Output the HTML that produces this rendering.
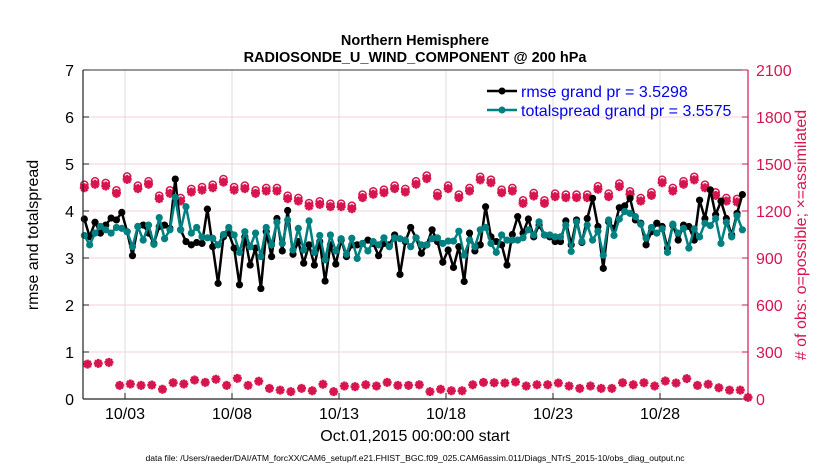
<!DOCTYPE html>
<html><head><meta charset="utf-8">
<style>
body{margin:0;background:#fff;}
svg{display:block;font-family:"Liberation Sans",Arial,sans-serif;}
</style></head>
<body>
<svg id="chart" width="830" height="470" viewBox="0 0 830 470" xmlns="http://www.w3.org/2000/svg">
<rect width="830" height="470" fill="#fff"/>
<text x="415" y="45" text-anchor="middle" font-size="14.5" font-weight="bold">Northern Hemisphere</text>
<text x="415" y="62" text-anchor="middle" font-size="14.5" font-weight="bold">RADIOSONDE_U_WIND_COMPONENT @ 200 hPa</text>
<g id="grid"></g>
<g id="marks"></g>
<g id="axes"></g>
<text transform="translate(38,235) rotate(-90)" text-anchor="middle" font-size="16">rmse and totalspread</text>
<text transform="translate(806,235) rotate(-90)" text-anchor="middle" font-size="16" fill="#d6154f">#&#160;of obs: o=possible; ×=assimilated</text>
<text x="415" y="441" text-anchor="middle" font-size="16">Oct.01,2015 00:00:00 start</text>
<text x="415" y="461" text-anchor="middle" font-size="8.6">data file: /Users/raeder/DAI/ATM_forcXX/CAM6_setup/f.e21.FHIST_BGC.f09_025.CAM6assim.011/Diags_NTrS_2015-10/obs_diag_output.nc</text>
<g>
  <line x1="487" y1="91" x2="517" y2="91" stroke="#000" stroke-width="2.5"/>
  <circle cx="502" cy="91" r="3.5" fill="#000"/>
  <text x="521" y="97" font-size="16" fill="#0000ee">rmse grand pr = 3.5298</text>
  <line x1="487" y1="110" x2="517" y2="110" stroke="#008080" stroke-width="2.5"/>
  <circle cx="502" cy="110" r="3.5" fill="#008080"/>
  <text x="521" y="116" font-size="16" fill="#0000ee">totalspread grand pr = 3.5575</text>
</g>
</svg>
<script>
const rmse = [3.83,3.45,3.76,3.53,3.70,3.85,3.81,3.97,3.56,3.05,3.67,3.70,3.53,3.31,3.67,3.70,3.63,4.68,3.60,3.35,3.28,3.33,3.31,4.04,3.24,2.46,3.45,3.53,3.21,2.43,3.45,2.85,
3.21,2.35,3.56,3.03,3.84,3.15,4.01,3.08,3.35,2.89,3.28,2.85,3.35,2.51,3.28,2.87,3.38,3.03,3.28,3.28,3.31,3.38,3.31,3.05,3.31,3.28,3.49,2.65,3.35,3.65,3.43,
3.10,3.28,3.60,3.35,2.91,3.17,2.80,3.24,2.50,3.53,3.15,3.28,4.09,3.45,3.35,3.28,2.85,3.50,3.88,3.53,3.83,3.45,3.70,3.49,3.45,3.35,3.35,3.79,3.28,3.81,3.33,3.84,
4.27,3.67,2.78,3.77,3.63,4.07,4.11,4.27,3.81,3.74,3.28,3.56,3.74,3.67,3.21,3.70,3.38,3.70,3.67,3.38,4.23,3.84,4.45,3.92,4.21,3.84,3.49,3.95,4.35];
const spread = [3.48,3.28,3.53,3.67,3.60,3.53,3.65,3.63,3.56,3.24,3.67,3.38,3.70,3.29,3.86,3.41,3.60,4.29,3.60,4.09,3.53,3.65,3.45,3.43,3.42,3.28,3.50,3.65,3.49,3.12,3.56,3.24,
3.53,3.03,3.65,3.28,3.76,3.31,3.81,3.17,3.63,3.17,3.79,3.12,3.48,2.96,3.49,3.15,3.41,3.08,3.42,2.99,3.31,3.15,3.35,3.28,3.43,3.24,3.43,3.41,3.38,3.24,3.43,
3.28,3.28,3.41,3.43,3.31,3.36,3.36,3.57,3.06,3.38,3.24,3.60,3.65,3.31,3.12,3.49,3.38,3.38,3.38,3.43,3.60,3.49,3.77,3.49,3.49,3.45,3.45,3.70,3.14,3.77,3.35,3.70,
3.38,3.57,3.06,3.81,3.48,3.83,3.99,3.95,3.88,3.72,3.42,3.65,3.53,3.62,3.12,3.72,3.53,3.63,3.21,3.62,3.45,3.74,3.69,3.84,3.31,3.76,3.45,3.90,3.60];
const nPossible = [1355,1377,1366,1319,1408,1349,1377,1285,1319,1270,1328,1340,1355,1391,1340,1349,
1319,1334,1334,1285,1270,1238,1249,1234,1234,1221,1292,1313,1323,1349,1328,1377,
1413,1302,1349,1292,1334,1405,1387,1323,1334,1255,1302,1255,1298,1292,1292,1292,
1345,1298,1362,1313,1270,1306,1387,1334,1377,1405,1355,1306,1270,1264];
const nAssim = [223,227,234,87,96,87,89,62,104,96,121,106,126,87,132,87,113,68,57,47,68,53,94,47,83,79,91,83,106,87,87,91,
47,62,53,53,91,106,104,102,109,83,91,91,102,83,68,83,68,68,104,91,104,83,115,102,130,87,94,72,57,57,10];
const xTickDays = [2,7,12,17,22,27];
const xTickLabels = ["10/03","10/08","10/13","10/18","10/23","10/28"];
const leftTicks = [0,1,2,3,4,5,6,7];
const rightTicks = [0,300,600,900,1200,1500,1800,2100];

const L=83, R=748, T=70, B=399;
const xScale = d => 82.2 + 21.4*d;
const yL = v => B - (v/7)*(B-T);
const yR = v => B - (v/2100)*(B-T);
const NS="http://www.w3.org/2000/svg";
function mk(parent, tag, attrs){const e=document.createElementNS(NS,tag);for(const k in attrs)e.setAttribute(k,attrs[k]);parent.appendChild(e);return e;}
const grid=document.getElementById('grid'), marks=document.getElementById('marks'), axes=document.getElementById('axes');

leftTicks.forEach((v,i)=>{ if(v>0&&v<7){const g=mk(grid,'line',{x1:L,x2:R,y1:yL(v),y2:yL(v),stroke:'#f6cfdc','stroke-width':1});

}});
xTickDays.forEach((d,i)=>{const g=mk(grid,'line',{x1:xScale(d),x2:xScale(d),y1:T,y2:B,stroke:'#dcdcdc','stroke-width':1});

});

const cp = nPossible.map((v,k)=>[xScale(0.1+0.5*k), yR(v)]);
const ca = nAssim.map((v,k)=>[Math.min(xScale(0.25+0.5*k),R), yR(v)]);
function star(x,y,col,name){
  const g=mk(marks,'g',{});
  
  
  mk(g,'path',{d:`M${x-4.5} ${y}H${x+4.5}M${x} ${y-4.5}V${y+4.5}M${x-3.2} ${y-3.2}L${x+3.2} ${y+3.2}M${x-3.2} ${y+3.2}L${x+3.2} ${y-3.2}`,stroke:col,'stroke-width':2.6});
  mk(g,'circle',{cx:x,cy:y,r:2.8,fill:col});
}
cp.forEach(([x,y])=>{
  const c=mk(marks,'circle',{cx:x,cy:y-2,r:3.6,fill:'none',stroke:'#d6154f','stroke-width':1.5});
  
  
  star(x,y+1,'#d6154f','assimilated-obs-marker');
});
ca.forEach(([x,y])=>star(x,y,'#d6154f','assimilated-obs-low-marker'));

function series(vals,col,name){
  const pts=vals.map((v,i)=>[xScale(0.1+0.25*i), yL(v)]);
  const p=mk(marks,'polyline',{points:pts.map(p=>p.join(',')).join(' '),fill:'none',stroke:col,'stroke-width':2.5,'stroke-linejoin':'round'});
  
  
  pts.forEach(([x,y])=>{const c=mk(marks,'circle',{cx:x,cy:y,r:3.6,fill:col});
  
  });
}
series(rmse,'#000','rmse');
series(spread,'#008080','totalspread');

mk(axes,'line',{x1:L,x2:R,y1:T,y2:T,stroke:'#333','stroke-width':1});
mk(axes,'line',{x1:L,x2:R,y1:B,y2:B,stroke:'#222','stroke-width':1.2});
mk(axes,'line',{x1:L,x2:L,y1:T,y2:B,stroke:'#222','stroke-width':1.2});
mk(axes,'line',{x1:R,x2:R,y1:T,y2:B,stroke:'#d6154f','stroke-width':1.2});
leftTicks.forEach(v=>{
  mk(axes,'line',{x1:L,x2:L+6,y1:yL(v),y2:yL(v),stroke:'#222'});
  const t=mk(axes,'text',{x:L-9,y:yL(v)+6,'text-anchor':'end','font-size':16});
  t.textContent=v;
  
  
});
rightTicks.forEach(v=>{
  mk(axes,'line',{x1:R-6,x2:R,y1:yR(v),y2:yR(v),stroke:'#d6154f'});
  const t=mk(axes,'text',{x:R+8,y:yR(v)+6,'font-size':16,fill:'#d6154f'});
  t.textContent=v;
  
  
});
xTickDays.forEach((d,i)=>{
  mk(axes,'line',{x1:xScale(d),x2:xScale(d),y1:B,y2:B-6,stroke:'#222'});
  const t=mk(axes,'text',{x:xScale(d),y:B+20,'text-anchor':'middle','font-size':16});
  t.textContent=xTickLabels[i];
  
  
});
</script>
</body></html>
